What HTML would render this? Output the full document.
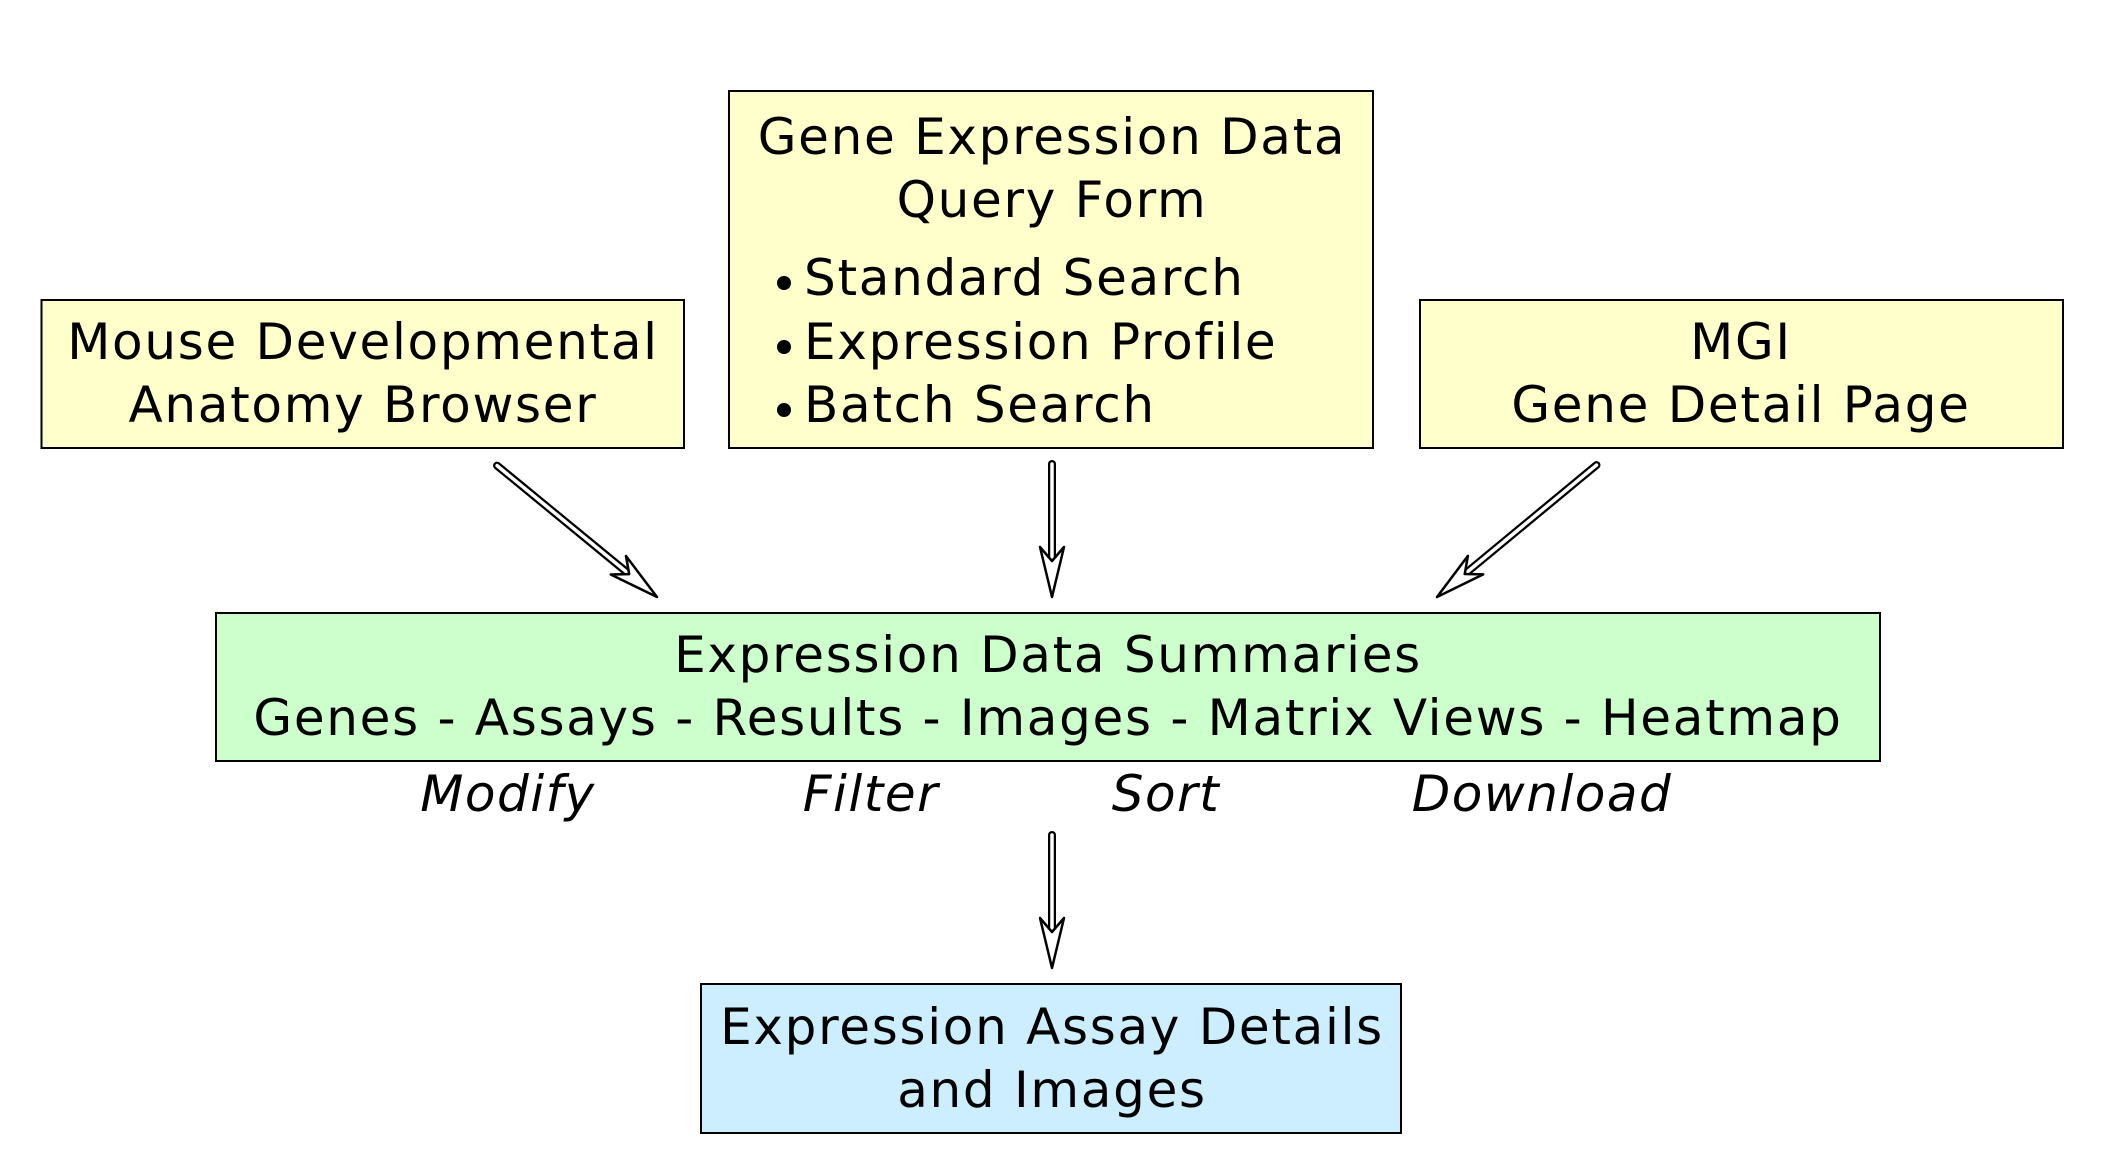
<!DOCTYPE html>
<html><head><meta charset="utf-8"><style>
html,body{margin:0;padding:0;background:#fff}
svg{display:block}
text{font-family:"DejaVu Sans","Liberation Sans",sans-serif;font-size:50px;fill:#000;letter-spacing:1.7px}
.i{font-style:italic;letter-spacing:1.5px}
</style></head><body>
<svg width="2102" height="1170" viewBox="0 0 2102 1170" xmlns="http://www.w3.org/2000/svg">
<g stroke="#000" stroke-width="2">
<rect x="41.5" y="300" width="642.5" height="148" fill="#ffffcc"/>
<rect x="729" y="91" width="644" height="357" fill="#ffffcc"/>
<rect x="1420" y="300" width="643" height="148" fill="#ffffcc"/>
<rect x="216" y="613" width="1664" height="148" fill="#ccffcc"/>
<rect x="701" y="984" width="700" height="149" fill="#cceeff"/>
</g>
<g text-anchor="middle">
<text x="363" y="359">Mouse Developmental</text>
<text x="363" y="422">Anatomy Browser</text>
<text x="1052" y="154">Gene Expression Data</text>
<text x="1052" y="217">Query Form</text>
<text x="1741" y="359">MGI</text>
<text x="1741" y="422">Gene Detail Page</text>
<text x="1048" y="672">Expression Data Summaries</text>
<text x="1048" y="735">Genes - Assays - Results - Images - Matrix Views - Heatmap</text>
<text class="i" x="508" y="811">Modify</text>
<text class="i" x="871" y="811">Filter</text>
<text class="i" x="1166" y="811">Sort</text>
<text class="i" x="1542" y="811">Download</text>
<text x="1052" y="1044">Expression Assay Details</text>
<text x="1052" y="1107">and Images</text>
</g>
<text x="804" y="295">Standard Search</text>
<text x="804" y="359">Expression Profile</text>
<text x="804" y="422">Batch Search</text>
<circle cx="784" cy="283" r="7"/>
<circle cx="784" cy="347" r="7"/>
<circle cx="784" cy="410" r="7"/>
<g stroke-linecap="round">
<g transform="translate(657,597) rotate(39.4)">
<line x1="-207" y1="0" x2="-36" y2="0" stroke="#000" stroke-width="8"/>
<line x1="-207" y1="0" x2="-30" y2="0" stroke="#fff" stroke-width="3.5"/>
<polygon points="0,0 -50,-12 -36,0 -50,12" fill="#fff" stroke="#000" stroke-width="2.5" stroke-linejoin="round"/>
</g>
<g transform="translate(1052,597) rotate(90)">
<line x1="-133" y1="0" x2="-36" y2="0" stroke="#000" stroke-width="8"/>
<line x1="-133" y1="0" x2="-30" y2="0" stroke="#fff" stroke-width="3.5"/>
<polygon points="0,0 -50,-12 -36,0 -50,12" fill="#fff" stroke="#000" stroke-width="2.5" stroke-linejoin="round"/>
</g>
<g transform="translate(1437,597) rotate(140.4)">
<line x1="-207" y1="0" x2="-36" y2="0" stroke="#000" stroke-width="8"/>
<line x1="-207" y1="0" x2="-30" y2="0" stroke="#fff" stroke-width="3.5"/>
<polygon points="0,0 -50,-12 -36,0 -50,12" fill="#fff" stroke="#000" stroke-width="2.5" stroke-linejoin="round"/>
</g>
<g transform="translate(1052,968) rotate(90)">
<line x1="-133" y1="0" x2="-36" y2="0" stroke="#000" stroke-width="8"/>
<line x1="-133" y1="0" x2="-30" y2="0" stroke="#fff" stroke-width="3.5"/>
<polygon points="0,0 -50,-12 -36,0 -50,12" fill="#fff" stroke="#000" stroke-width="2.5" stroke-linejoin="round"/>
</g>
</g>
</svg>
</body></html>
